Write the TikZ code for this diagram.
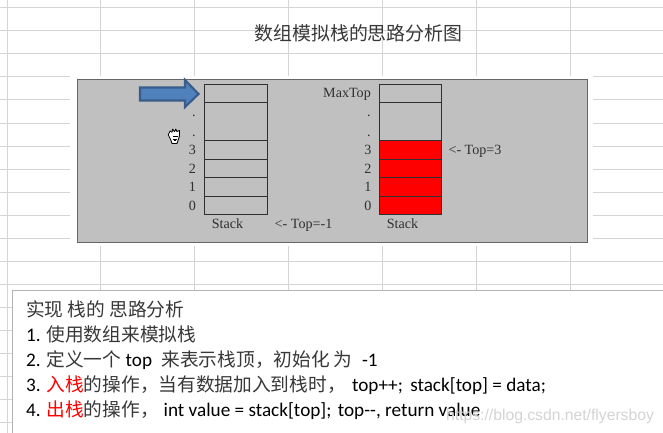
\documentclass[tikz,border=0pt]{standalone}
\usepackage{fontspec}
\setmainfont{Liberation Serif}
\newfontfamily\cjk{Noto Sans CJK SC}
\newfontfamily\lat{Carlito}
\newfontfamily\wm{Liberation Sans}
\newcommand{\Cn}[1]{{\cjk\fontsize{18.7}{20}\selectfont\color{cjkgray}#1}}
\newcommand{\Cr}[1]{{\cjk\fontsize{18.7}{20}\selectfont\color{red}#1}}
\definecolor{cjkgray}{HTML}{383838}
\definecolor{gridc}{HTML}{D4D4D4}
\definecolor{panelc}{HTML}{C0C0C0}
\definecolor{inkc}{HTML}{303030}
\definecolor{arrowf}{HTML}{4F81BD}
\definecolor{arrowd}{HTML}{385D8A}
\tikzset{
  x=1pt,y=-1pt,
  gridline/.style={gridc,line width=1pt},
  cellbox/.style={draw=inkc,line width=0.9pt},
  lab/.style={anchor=base,inner sep=0pt,font=\fontsize{14.1}{15}\selectfont,text=inkc},
  txt/.style={anchor=base west,inner sep=0pt,font=\lat\fontsize{19.2}{20}\selectfont,text=black},
}
\begin{document}
\begin{tikzpicture}
\useasboundingbox (0,0) rectangle (663,433);
\fill[white] (0,0) rectangle (663,433);
% sheet grid
\foreach \gx in {7,100,194,288,382,476,570} \draw[gridline] (\gx,0) -- (\gx,433);
\foreach \gy in {8,31,54,77,100,123,146,169,192,215,238,261,284,307,330,353,376,399,422} \draw[gridline] (0,\gy) -- (663,\gy);
% clear areas
\fill[white] (70,76) rectangle (593,246);
\fill[white] (12,290) rectangle (663,433);
\draw[line width=1pt,color=black!30] (663,290) -- (12,290) -- (12,433);
% panel
\node[draw=black!60,line width=0.9pt,fill=panelc,minimum width=510pt,minimum height=163pt,inner sep=0pt,outer sep=0pt] (panel) at (332,160.5) {};
% left stack
\draw[cellbox] (204,84) rectangle (267,214);
\foreach \cy in {102,140,159,177,196} \draw[cellbox] (204,\cy) -- (267,\cy);
% right stack
\fill[red] (379,140) rectangle (441,214);
\draw[cellbox] (379,84) rectangle (441,214);
\foreach \cy in {102,140,159,177,196} \draw[cellbox] (379,\cy) -- (441,\cy);
% labels left
\node[lab] (la) at (194,117) {.};
\node[lab] (lb) at (194,136) {.};
\node[lab] (l3) at (192.5,154) {3};
\node[lab] (l2) at (192.5,173) {2};
\node[lab] (l1) at (192.5,191) {1};
\node[lab] (l0) at (192.5,210) {0};
\node[lab] (ls) at (227.5,228) {Stack};
\node[lab] (lt) at (303.5,228) {<- Top=-1};
% labels right
\node[lab,anchor=base east] (rm) at (371,98) {MaxTop};
\node[lab] (ra) at (369,117) {.};
\node[lab] (rb) at (369,136) {.};
\node[lab] (r3) at (368,154) {3};
\node[lab] (r2) at (368,173) {2};
\node[lab] (r1) at (368,191) {1};
\node[lab] (r0) at (368,210) {0};
\node[lab] (rs) at (402.5,228) {Stack};
\node[lab] (rt) at (475,154) {<- Top=3};
% block arrow
\draw[draw=arrowd,fill=arrowf,line width=2.2pt,miter limit=3]
  (140,87.5) -- (185,87.5) -- (185,80) -- (198.5,94) -- (185,107) -- (185,100.5) -- (140,100.5) -- cycle;
% hand cursor
\begin{scope}[shift={(174.5,136)},scale=1.25]
\draw[fill=white,draw=black,line width=0.8pt,line join=round]
  (-5,-1) -- (-3.5,-4) -- (-2,-3) -- (-1.5,-5.5) -- (0,-3.5) -- (1,-5.5) -- (2,-3.5) -- (4,-4.5) -- (4,0) -- (3,3) -- (2,6) -- (-2,6) -- (-3,3) -- cycle;
\draw[line width=0.8pt] (-1.5,0) -- (2.5,0) (-1,2.5) -- (2,2.5) (-0.2,3.5) -- (0.8,3.5);
\end{scope}
% title
\node[anchor=base,inner sep=0pt,font=\cjk\fontsize{18.9}{20}\selectfont,text=cjkgray] (title) at (358.5,41) {数组模拟栈的思路分析图};
% text lines
\node[txt] (t1) at (26,316) {\Cn{实现 栈的 思路分析}};
\node[txt] (t2) at (26,341) {1. \Cn{使用数组来模拟栈}};
\node[txt] (t3) at (26,366) {2. \Cn{定义一个} top\hspace{5pt} \Cn{来表示栈顶，初始化 为}\hspace{5pt} -1};
\node[txt] (t4) at (26,391) {3. \Cr{入栈}\Cn{的操作，当有数据加入到栈时，}\hspace{2pt} top++;\hspace{3pt} stack[top] = data;};
\node[txt] (t5) at (26,416) {4. \Cr{出栈}\Cn{的操作，}\hspace{0.5pt} int value = stack[top];\hspace{2pt} top-{}-, return value};
% watermark
\node[anchor=base west,inner sep=0pt,font=\wm\fontsize{15.7}{16}\selectfont,text=black!17] (mark) at (446,420) {https://blog.csdn.net/flyersboy};
\end{tikzpicture}
\end{document}
